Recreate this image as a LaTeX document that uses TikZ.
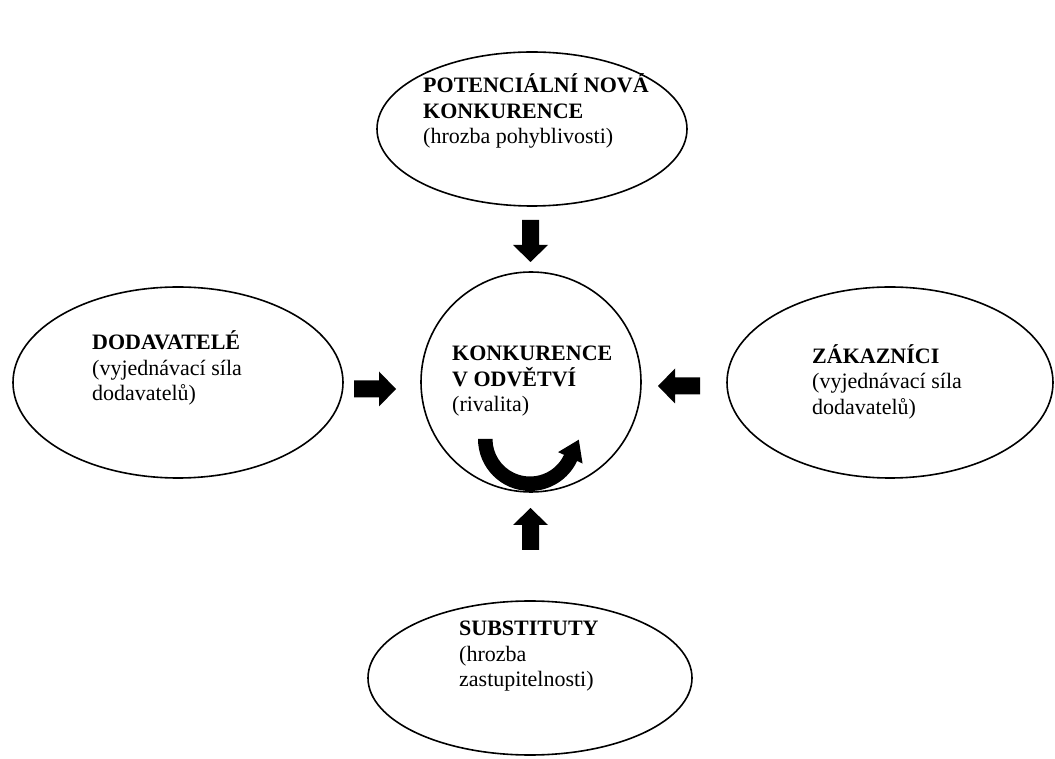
\documentclass[tikz,border=0pt]{standalone}
\usepackage{fontspec}
\setmainfont{Liberation Serif}
\usetikzlibrary{shapes.geometric,calc}
\tikzset{
  ell/.style={draw, ellipse, line width=1.6pt, inner sep=0pt},
  txt/.style={anchor=base west, inner sep=0pt, font=\fontsize{22}{25.5}\selectfont},
  blockarrow/.pic={\fill (0,-8.5) -- (25,-8.5) -- (25,-17.5) -- (42,0) -- (25,17.5) -- (25,8.5) -- (0,8.5) -- cycle;}
}
\begin{document}
\begin{tikzpicture}[x=1pt,y=1pt]
\fill[white] (0,0) rectangle (1055,758);
\useasboundingbox (0,0) rectangle (1055,758);

% shapes
\node[ell, minimum width=310pt, minimum height=154pt] (ntop) at (532,629) {};
\node[ell, minimum width=330pt, minimum height=191pt] (nleft) at (178,375.5) {};
\node[ell, minimum width=326pt, minimum height=191pt] (nright) at (890,375.5) {};
\node[ell, minimum width=324pt, minimum height=154pt] (nbottom) at (530,80) {};
\node[ell, circle, minimum size=220pt] (ncenter) at (531,376) {};

% texts
\node[txt] (ttop) at (423,665.3) {\vtop{\hbox{\textbf{POTENCIÁLNÍ NOVÁ}}\hbox{\textbf{KONKURENCE}}\hbox{(hrozba pohyblivosti)}}};
\node[txt] (tcenter) at (452,397.3) {\vtop{\hbox{\textbf{KONKURENCE}}\hbox{\textbf{V ODVĚTVÍ}}\hbox{(rivalita)}}};
\node[txt] (tleft) at (92,408) {\vtop{\hbox{\textbf{DODAVATELÉ}}\hbox{(vyjednávací síla}\hbox{dodavatelů)}}};
\node[txt] (tright) at (812,394.7) {\vtop{\hbox{\textbf{ZÁKAZNÍCI}}\hbox{(vyjednávací síla}\hbox{dodavatelů)}}};
\node[txt] (tbottom) at (459,122) {\vtop{\hbox{\textbf{SUBSTITUTY}}\hbox{(hrozba}\hbox{zastupitelnosti)}}};

% block arrows
\pic[rotate=-90] at (530.5,538) {blockarrow};
\pic[rotate=90] at (530.5,208) {blockarrow};
\pic at (354,369) {blockarrow};
\pic[rotate=180] at (700,372) {blockarrow};

% rivalry curved arrow
\coordinate (c) at (530,319);
\fill ($(c)+(180:52)$) arc[start angle=180, end angle=335, radius=52]
  -- ($(c)+(335:58)$) -- ($(c)+(335:44.5)+(65:20)$) -- ($(c)+(335:31)$)
  -- ($(c)+(335:37.5)$) arc[start angle=335, end angle=180, radius=37.5] -- cycle;
\end{tikzpicture}
\end{document}
